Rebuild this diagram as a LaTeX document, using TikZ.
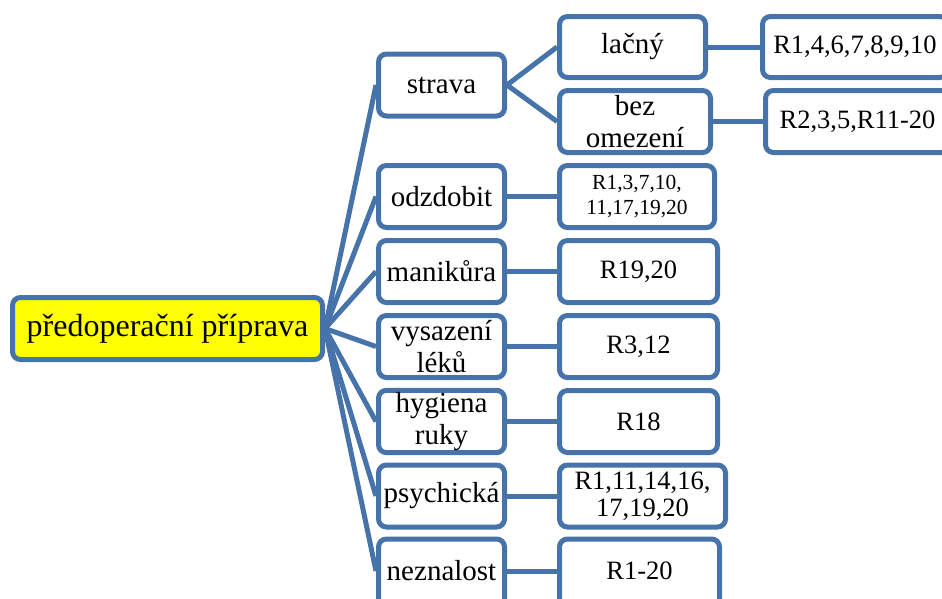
\documentclass[tikz,border=0pt]{standalone}
\usepackage{fontspec}
\setmainfont{Liberation Serif}
\definecolor{frameblue}{HTML}{4673AA}
\definecolor{rootfill}{HTML}{FFFF00}
\tikzset{
  basebox/.style={draw=frameblue, line width=5pt, rounded corners=8pt, fill=white,
    align=center, inner sep=2pt, anchor=center},
  rootbox/.style={basebox, fill=rootfill, minimum width=310pt, minimum height=62pt,
    font=\fontsize{32}{35}\selectfont},
  catbox/.style={basebox, minimum width=126pt, minimum height=62pt,
    font=\fontsize{29}{32}\selectfont},
  refbox/.style={basebox, minimum width=158pt, minimum height=62pt,
    font=\fontsize{26.5}{27}\selectfont},
  plaintext/.style={align=center, inner sep=0pt, anchor=center},
  link/.style={draw=frameblue, line width=5pt},
}
\begin{document}
\begin{tikzpicture}[x=1pt, y=-1pt]
\useasboundingbox (0,0) rectangle (942,598);
\clip (0,0) rectangle (942,598);

% root
\node[rootbox] (root) at (167.5,328.5) {předoperační příprava};

% first level
\node[catbox] (strava) at (441.5,85) {strava};
\node[catbox] (odzd) at (441.5,196.5) {odzdobit};
\node[catbox] (manik) at (441.5,271.5) {manikůra};
\node[catbox] (vysaz) at (441.5,346.5) {vysazení\\léků};
\node[catbox] (hyg) at (441.5,421.5) {hygiena\\ruky};
\node[catbox] (psych) at (441.5,496) {psychická};
% last row runs past the lower edge: tall frame, text placed separately
\node[catbox, minimum height=90pt] (nezn) at (441.5,584) {};
\node[plaintext, font=\fontsize{29}{32}\selectfont] (neznt) at (441.5,571) {neznalost};

% diet sub-branches
\node[catbox, minimum width=146pt, minimum height=61pt] (lacny) at (632.5,47) {lačný};
\node[catbox, minimum width=151pt] (bez) at (635,121.5) {bez\\omezení};
\node[refbox, minimum width=185pt, minimum height=61pt] (rlacny) at (855,47) {R1,4,6,7,8,9,10};
\node[refbox, minimum width=184pt] (rbez) at (857.5,121.5) {R2,3,5,R11-20};

% references
\node[refbox, minimum width=155pt, font=\fontsize{21.5}{25}\selectfont] (rodzd) at (637,196.5) {R1,3,7,10,\\11,17,19,20};
\node[refbox] (rmanik) at (638.5,271.5) {R19,20};
\node[refbox] (rvysaz) at (638.5,346.5) {R3,12};
\node[refbox] (rhyg) at (638.5,421.5) {R18};
\node[refbox, minimum width=166pt] (rpsych) at (642.5,496) {R1,11,14,16,\\17,19,20};
\node[refbox, minimum width=160pt, minimum height=90pt] (rnezn) at (639.5,584) {};
\node[plaintext, font=\fontsize{26.5}{27}\selectfont] (rneznt) at (639.5,571) {R1-20};

% connectors from the root
\foreach \n in {strava,odzd,manik,vysaz,hyg,psych}
  \draw[link] (root.east) -- (\n.west);
\draw[link] (root.east) -- (nezn.west |- neznt.center);

% connectors of the diet branch
\draw[link] (strava.east) -- (lacny.west);
\draw[link] (strava.east) -- (bez.west);
\draw[link] (lacny.east) -- (rlacny.west);
\draw[link] (bez.east) -- (rbez.west);

% category to reference connectors
\draw[link] (odzd.east) -- (rodzd.west);
\draw[link] (manik.east) -- (rmanik.west);
\draw[link] (vysaz.east) -- (rvysaz.west);
\draw[link] (hyg.east) -- (rhyg.west);
\draw[link] (psych.east) -- (rpsych.west);
\draw[link] (nezn.east |- neznt.center) -- (rnezn.west |- rneznt.center);
\end{tikzpicture}
\end{document}
